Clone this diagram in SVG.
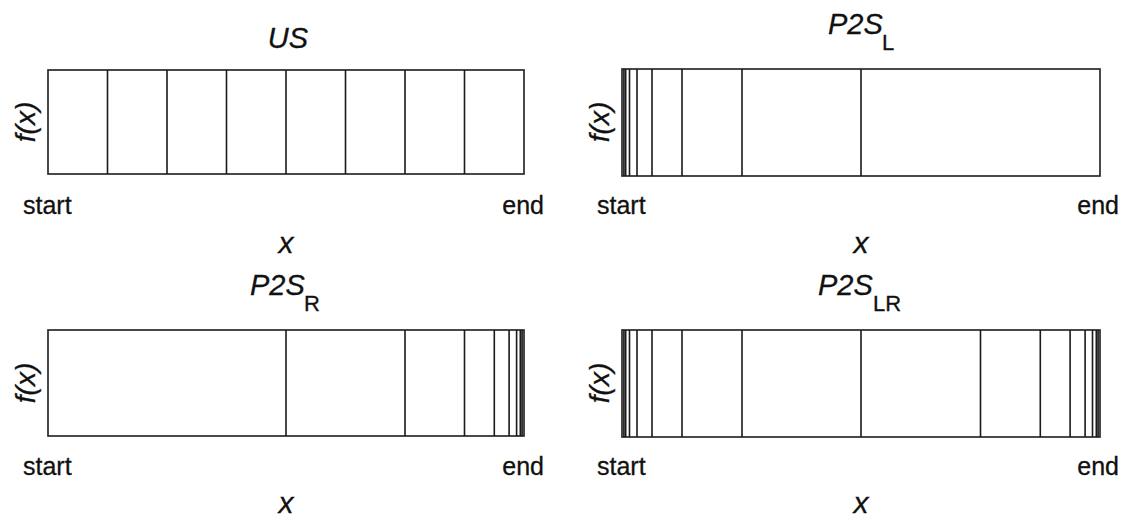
<svg xmlns="http://www.w3.org/2000/svg" width="1126" height="521" viewBox="0 0 1126 521">
<style>
.box{fill:#fff;stroke:#2a2a2a;stroke-width:1.7}
.div{stroke:#1a1a1a;stroke-width:1.6;fill:none}
.lbl{font-family:"Liberation Sans",Arial,sans-serif;font-size:25px;fill:#111;stroke:#111;stroke-width:0.3}
.it{font-style:italic}
.fx{font-size:28px}
.xl{font-size:30px}
.ttl{font-family:"Liberation Sans",Arial,sans-serif;font-size:29px;font-style:italic;fill:#111;stroke:#111;stroke-width:0.3}
.sub{font-size:22px;font-style:normal}
</style>
<rect width="1126" height="521" fill="#fff"/>
<g id="panel-US">
<text class="ttl" x="288" y="48" text-anchor="middle">US</text>
<rect class="box" x="48" y="70" width="476" height="104"/>
<path class="div" d="M107.5 70V174M167 70V174M226.5 70V174M286 70V174M345.5 70V174M405 70V174M464.5 70V174"/>
<text class="lbl it fx" transform="translate(35,122) rotate(-90)" text-anchor="middle">f(x)</text>
<text class="lbl" x="23" y="214">start</text>
<text class="lbl" x="544" y="214" text-anchor="end">end</text>
<text class="lbl it xl" x="286" y="253" text-anchor="middle">x</text>
</g>
<g id="panel-P2SL">
<text class="ttl" x="828" y="34">P2S<tspan class="sub" x="882" y="50">L</tspan></text>
<rect class="box" x="622" y="69" width="478" height="107"/>
<path class="div" d="M623.9 69V176M625.7 69V176M629.5 69V176M637 69V176M652 69V176M682 69V176M742 69V176M861 69V176"/>
<text class="lbl it fx" transform="translate(609,122) rotate(-90)" text-anchor="middle">f(x)</text>
<text class="lbl" x="597" y="214">start</text>
<text class="lbl" x="1119" y="214" text-anchor="end">end</text>
<text class="lbl it xl" x="861" y="253" text-anchor="middle">x</text>
</g>
<g id="panel-P2SR">
<text class="ttl" x="250" y="295">P2S<tspan class="sub" x="304" y="311">R</tspan></text>
<rect class="box" x="48" y="330" width="476" height="106"/>
<path class="div" d="M286 330V436M405 330V436M464.5 330V436M494.3 330V436M509.1 330V436M516.6 330V436M520.3 330V436M522.1 330V436"/>
<text class="lbl it fx" transform="translate(35,383) rotate(-90)" text-anchor="middle">f(x)</text>
<text class="lbl" x="23" y="475">start</text>
<text class="lbl" x="544" y="475" text-anchor="end">end</text>
<text class="lbl it xl" x="286" y="513" text-anchor="middle">x</text>
</g>
<g id="panel-P2SLR">
<text class="ttl" x="818" y="295">P2S<tspan class="sub" x="873" y="311">LR</tspan></text>
<rect class="box" x="622" y="330" width="478" height="107"/>
<path class="div" d="M623.9 330V437M625.7 330V437M629.5 330V437M637 330V437M652 330V437M682 330V437M742 330V437M861 330V437M980.5 330V437M1040.3 330V437M1070.1 330V437M1085.1 330V437M1092.5 330V437M1096.3 330V437M1098.1 330V437"/>
<text class="lbl it fx" transform="translate(609,383) rotate(-90)" text-anchor="middle">f(x)</text>
<text class="lbl" x="597" y="475">start</text>
<text class="lbl" x="1119" y="475" text-anchor="end">end</text>
<text class="lbl it xl" x="861" y="513" text-anchor="middle">x</text>
</g>
<g id="connectors"></g>
</svg>
